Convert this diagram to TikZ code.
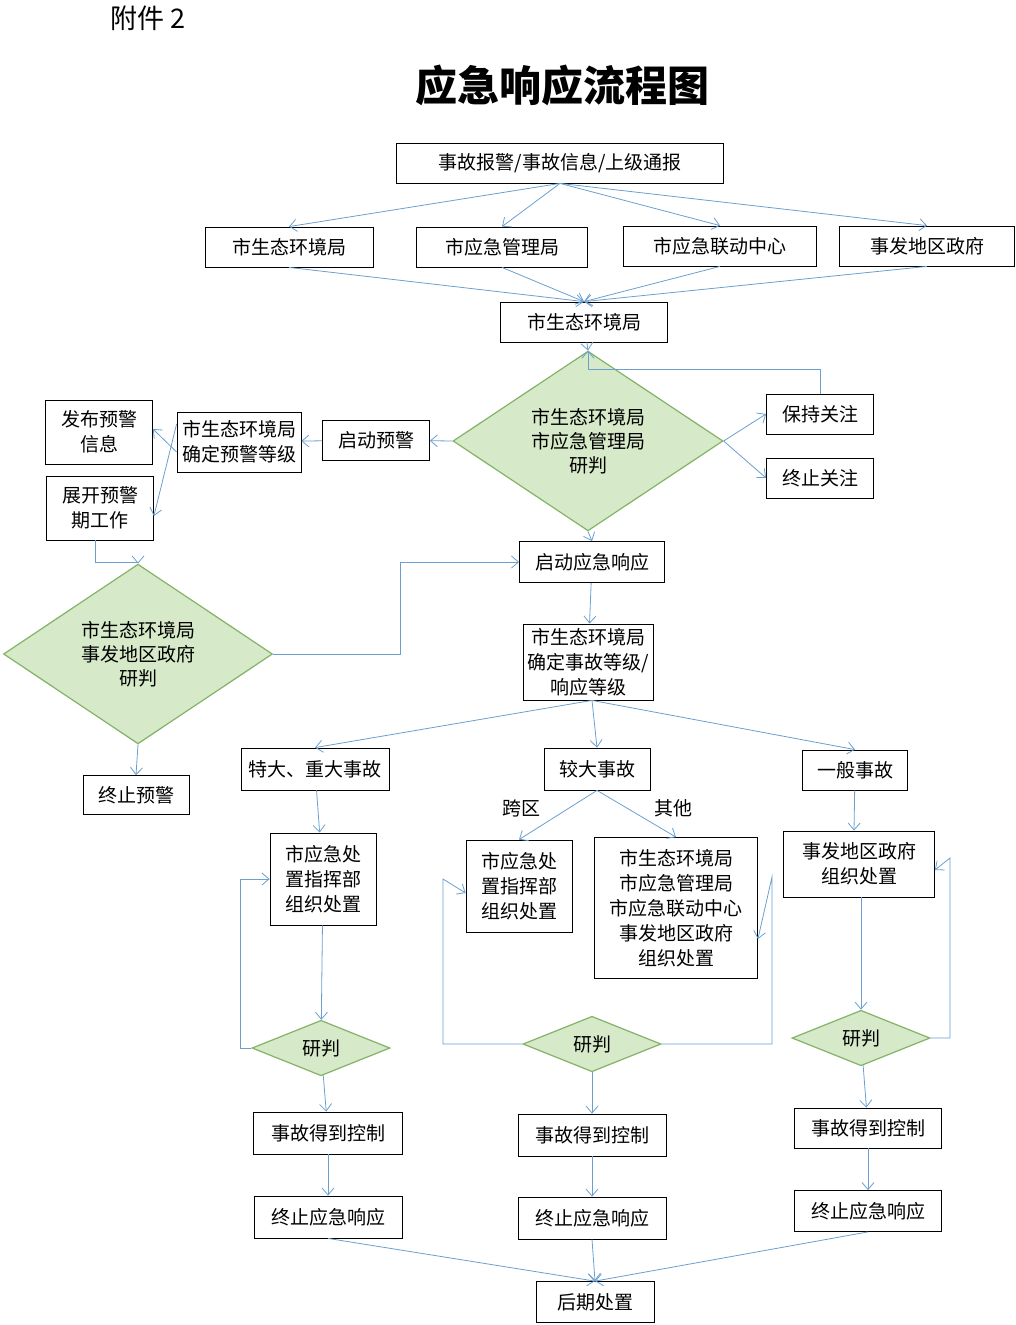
\documentclass[tikz,border=0pt]{standalone}
\usepackage{fontspec}
\setmainfont{Noto Sans CJK SC}
\usetikzlibrary{positioning,shapes.geometric,arrows.meta}
\definecolor{lineblue}{HTML}{6A9FCF}
\definecolor{dmdfill}{HTML}{D6E9C8}
\definecolor{dmdedge}{HTML}{82B366}
\tikzset{box/.style={draw, thick, align=center, inner sep=0pt, font=\fontsize{19}{25}\selectfont}}
\tikzset{dmd/.style={diamond, draw=dmdedge, very thick, fill=dmdfill, inner sep=0pt, align=center, font=\fontsize{19}{24}\selectfont}}
\tikzset{arr/.style={draw=lineblue, thick, -{Straight Barb[length=7pt,width=12pt]}}}
\tikzset{lbl/.style={font=\fontsize{19}{24}\selectfont}}
\begin{document}
\begin{tikzpicture}[x=1pt,y=-1pt]
	\useasboundingbox (0,0) rectangle (1015,1325);
	\node[font=\fontsize{27}{30}\selectfont] (att) at (148,18) {附件 2};
	\node[font=\fontsize{42}{46}\selectfont\bfseries] (title) at (562,85) {应急响应流程图};
	%
	\node[box, minimum width=327, minimum height=40] (rep) at (560,163) {事故报警/事故信息/上级通报};
	\node[box, minimum width=168, minimum height=40] (eco1) at (289,247) {市生态环境局};
	\node[box, minimum width=171, minimum height=40] (emg1) at (502,247) {市应急管理局};
	\node[box, minimum width=193, minimum height=40] (lnk1) at (720,246) {市应急联动中心};
	\node[box, minimum width=175, minimum height=40] (gov1) at (927,246) {事发地区政府};
	\node[box, minimum width=167, minimum height=40] (eco2) at (584,322) {市生态环境局};
	\node[dmd, minimum width=270, minimum height=138] (jdg1) at (588,441) {市生态环境局\\市应急管理局\\研判};
	\node[box, minimum width=107, minimum height=40] (keep) at (820,414) {保持关注};
	\node[box, minimum width=107, minimum height=40] (stopw) at (820,478) {终止关注};
	\node[box, minimum width=107, minimum height=40] (warn) at (376,440) {启动预警};
	\node[box, minimum width=124, minimum height=60] (lvlw) at (239,442) {市生态环境局\\确定预警等级};
	\node[box, minimum width=107, minimum height=64] (pub) at (99,432) {发布预警\\信息};
	\node[box, minimum width=107, minimum height=64] (work) at (100,508) {展开预警\\期工作};
	\node[box, minimum width=145, minimum height=41] (resp) at (592,562) {启动应急响应};
	\node[dmd, minimum width=269, minimum height=140] (jdg2) at (138,654) {市生态环境局\\事发地区政府\\研判};
	\node[box, minimum width=106, minimum height=39] (stopp) at (136,795) {终止预警};
	\node[box, minimum width=130, minimum height=76] (lvlr) at (588,662) {市生态环境局\\确定事故等级/\\响应等级};
	%
	\node[box, minimum width=148, minimum height=42] (big) at (315,769) {特大、重大事故};
	\node[box, minimum width=106, minimum height=42] (mid) at (597,769) {较大事故};
	\node[box, minimum width=105, minimum height=40] (gen) at (855,770) {一般事故};
	\node[box, minimum width=106, minimum height=92] (cmdA) at (323,879) {市应急处\\置指挥部\\组织处置};
	\node[box, minimum width=106, minimum height=92] (cmdB) at (519,886) {市应急处\\置指挥部\\组织处置};
	\node[box, minimum width=163, minimum height=141] (all) at (676,908) {市生态环境局\\市应急管理局\\市应急联动中心\\事发地区政府\\组织处置};
	\node[box, minimum width=151, minimum height=66] (loc) at (859,864) {事发地区政府\\组织处置};
	\node[dmd, minimum width=138, minimum height=52] (jdgA) at (321,1048) {研判};
	\node[dmd, minimum width=138, minimum height=52] (jdgB) at (592,1044) {研判};
	\node[dmd, minimum width=138, minimum height=52] (jdgC) at (861,1038) {研判};
	\node[box, minimum width=149, minimum height=42] (ctlA) at (328,1133) {事故得到控制};
	\node[box, minimum width=148, minimum height=42] (ctlB) at (592,1135) {事故得到控制};
	\node[box, minimum width=147, minimum height=40] (ctlC) at (868,1128) {事故得到控制};
	\node[box, minimum width=148, minimum height=42] (endA) at (328,1217) {终止应急响应};
	\node[box, minimum width=148, minimum height=42] (endB) at (592,1218) {终止应急响应};
	\node[box, minimum width=147, minimum height=41] (endC) at (868,1211) {终止应急响应};
	\node[box, minimum width=118, minimum height=41] (post) at (595,1302) {后期处置};
	\node[lbl] (cross) at (521,808) {跨区};
	\node[lbl] (other) at (673,808) {其他};
	%
	\foreach \n in {eco1,emg1,lnk1,gov1}
		\draw[arr] (rep.south) -- (\n.north);
	\foreach \n in {eco1,emg1,lnk1,gov1}
		\draw[arr] (\n.south) -- (eco2.north);
	\draw[arr] (eco2) -- (jdg1.north);
	\draw[arr] (jdg1.east) -- (keep.west);
	\draw[arr] (jdg1.east) -- (stopw.west);
	\draw[arr] (keep.north) -- ++(0,-24) -| (jdg1.north);
	\draw[arr] (jdg1.west) -- (warn);
	\draw[arr] (warn) -- (lvlw);
	\draw[arr] ([yshift=-10]lvlw.west) -- ([yshift=3]pub.east);
	\draw[arr] ([yshift=18]lvlw.west) -- ([yshift=-8]work.east);
	\draw[arr] ([xshift=-5]work.south) |- ++(43,22) -- (jdg2.north);
	\draw[arr] (jdg2.east) -| (400,562) -- (resp.west);
	\draw[arr] (jdg2.south) -- (stopp.north);
	\draw[arr] (jdg1.south) -- (resp.north);
	\draw[arr] (resp) -- (lvlr);
	\foreach \n in {big,mid,gen}
		\draw[arr] ([xshift=4]lvlr.south) -- (\n.north);
	%
	\draw[arr] (big) -- (cmdA);
	\draw[arr] (mid.south) -- (cmdB.north);
	\draw[arr] (mid.south) -- (all.north);
	\draw[arr] (gen) -- ([xshift=-5]loc.north);
	\draw[arr] (cmdA) -- (jdgA);
	\draw[arr] ([xshift=2]loc.south) -- (jdgC.north);
	\draw[arr] (jdgA.west) -| (240,879) -- (cmdA.west);
	\draw[arr] (jdgB.west) -| (443,879) -- ([yshift=-7]cmdB.west);
	\draw[arr] (jdgB.east) -| (772,877) -- ([yshift=-31]all.east);
	\draw[arr] (jdgC.east) -| (950,858) -- ([yshift=-6]loc.east);
	\draw[arr] (jdgA) -- (ctlA);
	\draw[arr] (jdgB) -- (ctlB);
	\draw[arr] (jdgC) -- (ctlC);
	\draw[arr] (ctlA) -- (endA);
	\draw[arr] (ctlB) -- (endB);
	\draw[arr] (ctlC) -- (endC);
	\foreach \n in {endA,endB,endC}
		\draw[arr] (\n.south) -- (post.north);
\end{tikzpicture}
\end{document}
